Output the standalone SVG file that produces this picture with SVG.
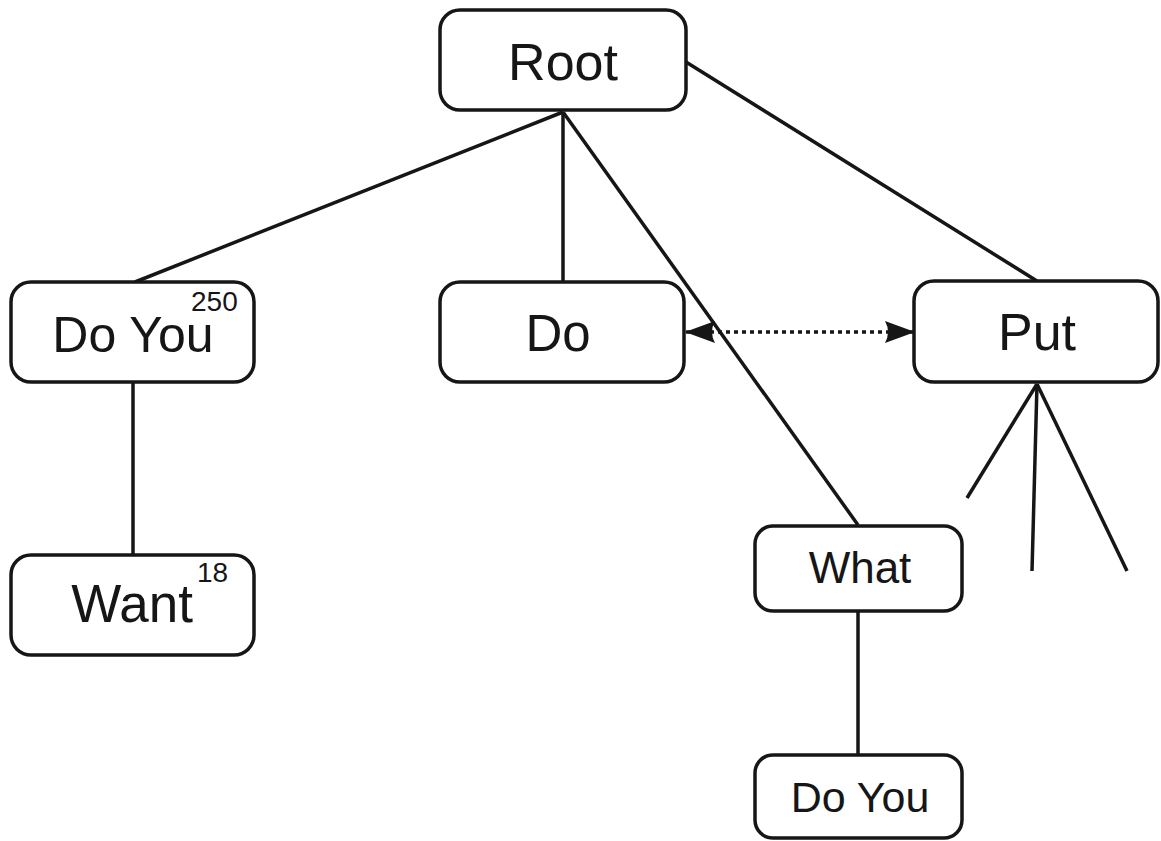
<svg xmlns="http://www.w3.org/2000/svg" width="1161" height="841" viewBox="0 0 1161 841">
<style>
.box{fill:#fff;stroke:#161616;stroke-width:3.5}
.ln{stroke:#161616;stroke-width:3.5;fill:none;stroke-linecap:butt}
.t{font-family:"Liberation Sans",Arial,sans-serif;fill:#161616;text-anchor:middle}
.sup{font-family:"Liberation Sans",Arial,sans-serif;fill:#161616}
</style>
<defs>
<marker id="ah" viewBox="0 0 30 22" refX="29" refY="11" markerWidth="30" markerHeight="22" markerUnits="userSpaceOnUse" orient="auto-start-reverse">
<path d="M0,0 L30,11 L0,22 Q6,11 0,0 Z" fill="#161616"/>
</marker>
</defs>
<rect width="1161" height="841" fill="#fff"/>
<g id="connectors">
<line class="ln" x1="563" y1="112" x2="135" y2="282"/>
<line class="ln" x1="563" y1="112" x2="563" y2="282"/>
<line class="ln" x1="563" y1="112" x2="858" y2="525"/>
<line class="ln" x1="686" y1="62" x2="1037" y2="281"/>
<line class="ln" x1="133" y1="382" x2="133" y2="555"/>
<line class="ln" x1="858" y1="611" x2="858" y2="755"/>
<line class="ln" x1="1037" y1="384" x2="967" y2="498"/>
<line class="ln" x1="1037" y1="384" x2="1032" y2="571"/>
<line class="ln" x1="1037" y1="384" x2="1127" y2="571"/>
<line class="ln" x1="686" y1="332" x2="914" y2="332" stroke-dasharray="4 4" marker-start="url(#ah)" marker-end="url(#ah)"/>
</g>
<g id="root">
<rect class="box" x="440" y="10" width="246" height="100" rx="20"/>
<text class="t" x="563" y="80" font-size="52">Root</text>
</g>
<g id="doyou">
<rect class="box" x="11" y="282" width="243" height="100" rx="20"/>
<text class="t" x="133" y="352" font-size="50">Do You</text>
<text class="sup" x="191" y="311" font-size="28">250</text>
</g>
<g id="do">
<rect class="box" x="440" y="282" width="244" height="100" rx="20"/>
<text class="t" x="558" y="351" font-size="51">Do</text>
</g>
<g id="put">
<rect class="box" x="914" y="281" width="244" height="101" rx="20"/>
<text class="t" x="1037" y="350" font-size="52">Put</text>
</g>
<g id="want">
<rect class="box" x="11" y="555" width="243" height="100" rx="20"/>
<text class="t" x="132" y="622" font-size="53">Want</text>
<text class="sup" x="197" y="582" font-size="28">18</text>
</g>
<g id="what">
<rect class="box" x="755" y="526" width="207" height="85" rx="18"/>
<text class="t" x="860" y="583" font-size="44">What</text>
</g>
<g id="doyou2">
<rect class="box" x="755" y="755" width="207" height="83" rx="18"/>
<text class="t" x="860" y="812" font-size="43">Do You</text>
</g>
</svg>
